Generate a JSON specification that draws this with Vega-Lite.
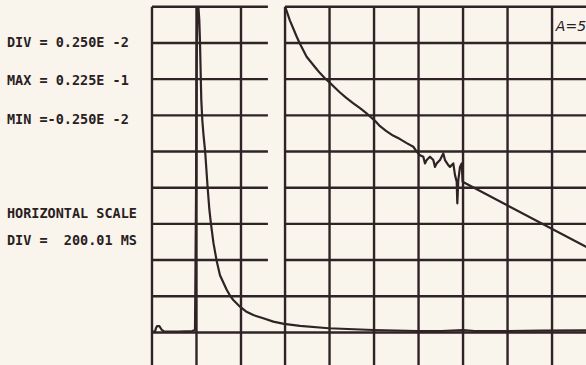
{
  "$schema": "https://vega.github.io/schema/vega-lite/v6.json",
  "width": 586,
  "height": 365,
  "autosize": {"type": "none"},
  "padding": 0,
  "background": "#f9f5ec",
  "config": {"view": {"stroke": null}},
  "datasets": {
    "vgrid": [
      {"x": 0}, {"x": 200}, {"x": 400},
      {"x": 598}, {"x": 798}, {"x": 998}, {"x": 1198}, {"x": 1398}, {"x": 1598}, {"x": 1798}
    ],
    "hgrid": [
      {"y": 22.5, "x1": 0, "x2": 521}, {"y": 20, "x1": 0, "x2": 521}, {"y": 17.5, "x1": 0, "x2": 521},
      {"y": 15, "x1": 0, "x2": 521}, {"y": 12.5, "x1": 0, "x2": 521}, {"y": 10, "x1": 0, "x2": 521},
      {"y": 7.5, "x1": 0, "x2": 521}, {"y": 5, "x1": 0, "x2": 521},
      {"y": 22.5, "x1": 598, "x2": 2000}, {"y": 20, "x1": 598, "x2": 2000}, {"y": 17.5, "x1": 598, "x2": 2000},
      {"y": 15, "x1": 598, "x2": 2000}, {"y": 12.5, "x1": 598, "x2": 2000}, {"y": 10, "x1": 598, "x2": 2000},
      {"y": 7.5, "x1": 598, "x2": 2000}, {"y": 5, "x1": 598, "x2": 2000},
      {"y": 2.5, "x1": 0, "x2": 2000}, {"y": 0, "x1": 0, "x2": 2000}
    ],
    "trace": [
      {"s": "a", "t": 0, "v": 0.06}, {"s": "a", "t": 13.5, "v": 0.06}, {"s": "a", "t": 18, "v": 0.3},
      {"s": "a", "t": 22.5, "v": 0.43}, {"s": "a", "t": 33.7, "v": 0.43}, {"s": "a", "t": 42.7, "v": 0.2},
      {"s": "a", "t": 53.9, "v": 0.08}, {"s": "a", "t": 120, "v": 0.06}, {"s": "a", "t": 180, "v": 0.1},
      {"s": "a", "t": 193.3, "v": 0.17}, {"s": "a", "t": 197.8, "v": 9.15}, {"s": "a", "t": 200.9, "v": 18.82},
      {"s": "a", "t": 203.6, "v": 21.93}, {"s": "a", "t": 206.7, "v": 22.41}, {"s": "a", "t": 209, "v": 22.41},
      {"s": "a", "t": 212.6, "v": 21.59}, {"s": "a", "t": 215.7, "v": 20.07}, {"s": "a", "t": 219.3, "v": 17.58},
      {"s": "a", "t": 221.6, "v": 16.06}, {"s": "a", "t": 226.1, "v": 14.68}, {"s": "a", "t": 231.5, "v": 13.64},
      {"s": "a", "t": 239.1, "v": 12.47}, {"s": "a", "t": 250.3, "v": 9.96}, {"s": "a", "t": 258, "v": 8.46},
      {"s": "a", "t": 265.2, "v": 7.48}, {"s": "a", "t": 276.4, "v": 6.17}, {"s": "a", "t": 290.8, "v": 4.93},
      {"s": "a", "t": 305.6, "v": 3.95}, {"s": "a", "t": 319.1, "v": 3.5}, {"s": "a", "t": 335.7, "v": 2.95},
      {"s": "a", "t": 350.6, "v": 2.55}, {"s": "a", "t": 365.4, "v": 2.24}, {"s": "a", "t": 395.5, "v": 1.78},
      {"s": "a", "t": 422.5, "v": 1.45}, {"s": "a", "t": 455.3, "v": 1.2}, {"s": "a", "t": 500.2, "v": 0.98},
      {"s": "a", "t": 545.2, "v": 0.75}, {"s": "a", "t": 593.3, "v": 0.59}, {"s": "a", "t": 665.2, "v": 0.45},
      {"s": "a", "t": 794.2, "v": 0.29}, {"s": "a", "t": 994.6, "v": 0.17}, {"s": "a", "t": 1194.2, "v": 0.1},
      {"s": "a", "t": 1300, "v": 0.1}, {"s": "a", "t": 1398, "v": 0.16}, {"s": "a", "t": 1450, "v": 0.1},
      {"s": "a", "t": 1600, "v": 0.1}, {"s": "a", "t": 1750, "v": 0.12}, {"s": "a", "t": 2000, "v": 0.14},
      {"s": "b", "t": 598, "v": 22.45}, {"s": "b", "t": 601, "v": 22.4}, {"s": "b", "t": 610, "v": 22.0},
      {"s": "b", "t": 620, "v": 21.55}, {"s": "b", "t": 635, "v": 21.0}, {"s": "b", "t": 650, "v": 20.45},
      {"s": "b", "t": 665, "v": 19.95}, {"s": "b", "t": 680, "v": 19.5}, {"s": "b", "t": 695, "v": 19.05},
      {"s": "b", "t": 715, "v": 18.67}, {"s": "b", "t": 735, "v": 18.29}, {"s": "b", "t": 755, "v": 17.92},
      {"s": "b", "t": 775, "v": 17.6}, {"s": "b", "t": 794, "v": 17.33}, {"s": "b", "t": 818, "v": 16.97},
      {"s": "b", "t": 845, "v": 16.58}, {"s": "b", "t": 872, "v": 16.22}, {"s": "b", "t": 903.5, "v": 15.85},
      {"s": "b", "t": 934.9, "v": 15.5}, {"s": "b", "t": 961.9, "v": 15.17}, {"s": "b", "t": 979.9, "v": 14.92},
      {"s": "b", "t": 1002.4, "v": 14.62}, {"s": "b", "t": 1024.9, "v": 14.25}, {"s": "b", "t": 1051.8, "v": 13.93},
      {"s": "b", "t": 1083.3, "v": 13.6}, {"s": "b", "t": 1114.7, "v": 13.36}, {"s": "b", "t": 1144.8, "v": 13.08},
      {"s": "b", "t": 1174.4, "v": 12.83}, {"s": "b", "t": 1189.7, "v": 12.5}, {"s": "b", "t": 1204.5, "v": 12.25},
      {"s": "b", "t": 1219.4, "v": 12.14}, {"s": "b", "t": 1227, "v": 11.68}, {"s": "b", "t": 1234.6, "v": 11.91},
      {"s": "b", "t": 1249.4, "v": 12.14}, {"s": "b", "t": 1264.3, "v": 11.91}, {"s": "b", "t": 1271.9, "v": 11.44},
      {"s": "b", "t": 1279.5, "v": 11.68}, {"s": "b", "t": 1294.4, "v": 11.91}, {"s": "b", "t": 1309.2, "v": 12.37},
      {"s": "b", "t": 1316.9, "v": 11.91}, {"s": "b", "t": 1331.7, "v": 11.56}, {"s": "b", "t": 1339.4, "v": 11.44},
      {"s": "b", "t": 1354.2, "v": 11.68}, {"s": "b", "t": 1361.8, "v": 10.87}, {"s": "b", "t": 1369.5, "v": 10.41},
      {"s": "b", "t": 1372.2, "v": 8.92}, {"s": "b", "t": 1376.7, "v": 10.53}, {"s": "b", "t": 1384.3, "v": 11.44},
      {"s": "b", "t": 1391.9, "v": 11.68}, {"s": "b", "t": 1396, "v": 10.41}, {"s": "b", "t": 1950.6, "v": 5.92},
      {"s": "b", "t": 2000, "v": 5.52}
    ],
    "labels": [
      {"t": -652, "v": 20.03, "text": "DIV = 0.250E -2"},
      {"t": -652, "v": 17.34, "text": "MAX = 0.225E -1"},
      {"t": -652, "v": 14.65, "text": "MIN =-0.250E -2"},
      {"t": -652, "v": 8.19, "text": "HORIZONTAL SCALE"},
      {"t": -652, "v": 6.32, "text": "DIV =\u00a0 200.01 MS"}
    ],
    "note": [
      {"t": 1815, "v": 21.1, "text": "A=5"}
    ]
  },
  "layer": [
    {
      "data": {"name": "vgrid"},
      "mark": {"type": "rule", "color": "#2f2326", "strokeWidth": 2.4, "clip": true},
      "encoding": {
        "x": {"field": "x", "type": "quantitative", "scale": {"domain": [-683.1, 1950.6], "nice": false, "zero": false}, "axis": null},
        "y": {"datum": 22.5, "type": "quantitative", "scale": {"domain": [-2.25, 22.97], "nice": false, "zero": false}, "axis": null},
        "y2": {"datum": -3}
      }
    },
    {
      "data": {"name": "hgrid"},
      "mark": {"type": "rule", "color": "#2f2326", "strokeWidth": 2.4, "clip": true},
      "encoding": {
        "y": {"field": "y", "type": "quantitative", "scale": {"domain": [-2.25, 22.97], "nice": false, "zero": false}, "axis": null},
        "x": {"field": "x1", "type": "quantitative", "scale": {"domain": [-683.1, 1950.6], "nice": false, "zero": false}, "axis": null},
        "x2": {"field": "x2"}
      }
    },
    {
      "data": {"name": "trace"},
      "mark": {"type": "line", "color": "#2f2326", "strokeWidth": 2.2, "clip": true, "strokeJoin": "round"},
      "encoding": {
        "x": {"field": "t", "type": "quantitative", "scale": {"domain": [-683.1, 1950.6], "nice": false, "zero": false}, "axis": null},
        "y": {"field": "v", "type": "quantitative", "scale": {"domain": [-2.25, 22.97], "nice": false, "zero": false}, "axis": null},
        "detail": {"field": "s", "type": "nominal"}
      }
    },
    {
      "data": {"name": "labels"},
      "mark": {"type": "text", "align": "left", "baseline": "middle", "font": "DejaVu Sans Mono", "fontWeight": "bold", "fontSize": 13.5, "color": "#2a2022"},
      "encoding": {
        "x": {"field": "t", "type": "quantitative", "scale": {"domain": [-683.1, 1950.6], "nice": false, "zero": false}, "axis": null},
        "y": {"field": "v", "type": "quantitative", "scale": {"domain": [-2.25, 22.97], "nice": false, "zero": false}, "axis": null},
        "text": {"field": "text", "type": "nominal"}
      }
    },
    {
      "data": {"name": "note"},
      "mark": {"type": "text", "align": "left", "baseline": "middle", "font": "DejaVu Sans", "fontStyle": "italic", "fontSize": 14, "color": "#2a2022"},
      "encoding": {
        "x": {"field": "t", "type": "quantitative", "scale": {"domain": [-683.1, 1950.6], "nice": false, "zero": false}, "axis": null},
        "y": {"field": "v", "type": "quantitative", "scale": {"domain": [-2.25, 22.97], "nice": false, "zero": false}, "axis": null},
        "text": {"field": "text", "type": "nominal"}
      }
    }
  ]
}
